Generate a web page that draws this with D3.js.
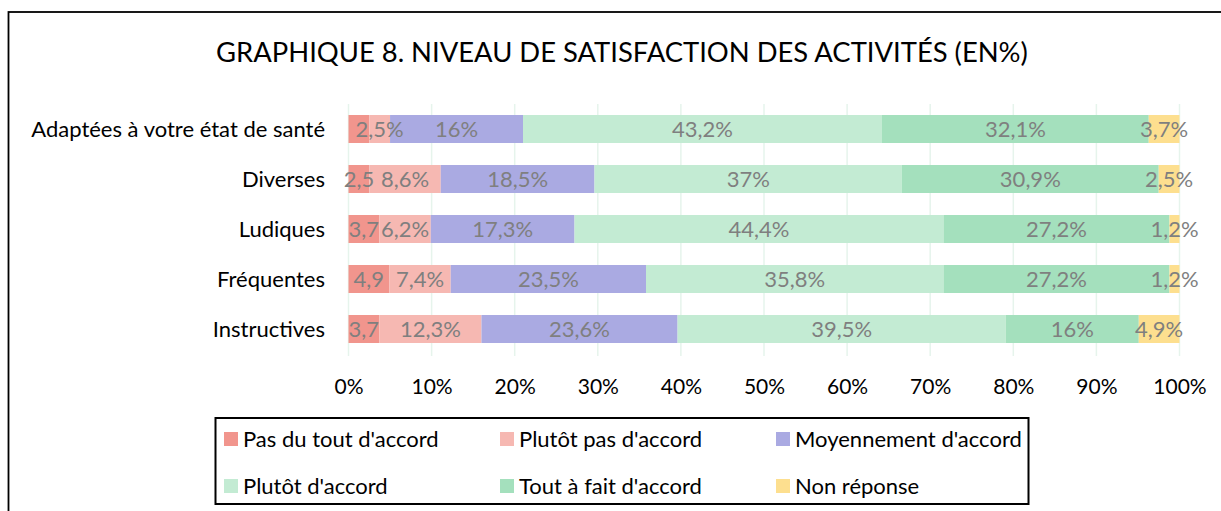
<!DOCTYPE html>
<html>
<head>
<meta charset="utf-8">
<script src="https://cdn.jsdelivr.net/npm/d3@7"></script>
<style>
  body { margin: 0; background: #fff; }
  svg { display: block; font-family: Lato, "Open Sans", sans-serif; }
</style>
</head>
<body>
<div id="chart"></div>
<script>
// Data
const categories = ["Adaptées à votre état de santé", "Diverses", "Ludiques", "Fréquentes", "Instructives"];
const seriesNames = ["Pas du tout d'accord", "Plutôt pas d'accord", "Moyennement d'accord",
                     "Plutôt d'accord", "Tout à fait d'accord", "Non réponse"];
const pasDuTout   = [2.5, 2.5, 3.7, 4.9, 3.7];
const plutotPas   = [2.5, 8.6, 6.2, 7.4, 12.3];
const moyennement = [16, 18.5, 17.3, 23.5, 23.6];
const plutot      = [43.2, 37, 44.4, 35.8, 39.5];
const toutAFait   = [32.1, 30.9, 27.2, 27.2, 16];
const nonReponse  = [3.7, 2.5, 1.2, 1.2, 4.9];
const tickValues  = [0, 10, 20, 30, 40, 50, 60, 70, 80, 90, 100];
const colors = ["#f1958d", "#f6b8b2", "#aaaae2", "#c3ebd3", "#a4e0bd", "#fddf8f"];

const seriesValues = [pasDuTout, plutotPas, moyennement, plutot, toutAFait, nonReponse];

// build rows for the stack
const rows = categories.map(function(c, i) {
  const r = { cat: c };
  seriesNames.forEach(function(s, j) { r[s] = seriesValues[j][i]; });
  return r;
});

const width = 1221, height = 511;
const plot = { left: 348.5, right: 1179.5, top: 104, bottom: 354 };
const fontSize = 22;

const svg = d3.select("#chart").append("svg")
  .attr("width", width)
  .attr("height", height);

// outer frame
svg.append("rect")
  .attr("x", 8.5).attr("y", 12)
  .attr("width", 1240).attr("height", 540)
  .attr("fill", "none")
  .attr("stroke", "#000")
  .attr("stroke-width", 1.8);

svg.append("text")
  .attr("x", 622).attr("y", 62)
  .attr("text-anchor", "middle")
  .attr("font-size", 27.4)
  .attr("fill", "#000")
  .text("GRAPHIQUE 8. NIVEAU DE SATISFACTION DES ACTIVITÉS (EN%)");

const x = d3.scaleLinear().domain([0, 100]).range([plot.left, plot.right]);
const y = d3.scaleBand().domain(categories).range([plot.top, plot.bottom])
  .paddingInner(0.44).paddingOuter(0.22);

// gridlines
svg.append("g").selectAll("line")
  .data(tickValues)
  .enter().append("line")
  .attr("x1", d => x(d)).attr("x2", d => x(d))
  .attr("y1", plot.top).attr("y2", plot.bottom + 2)
  .attr("stroke", "#e6f4ec")
  .attr("stroke-width", 1.5);

const stack = d3.stack().keys(seriesNames)(rows);

const layers = svg.append("g").selectAll("g")
  .data(stack)
  .enter().append("g")
  .attr("fill", (d, i) => colors[i]);

layers.selectAll("rect")
  .data(d => d)
  .enter().append("rect")
  .attr("x", d => x(d[0]))
  .attr("y", d => y(d.data.cat))
  .attr("width", d => x(d[1]) - x(d[0]))
  .attr("height", y.bandwidth());

// data labels (first series is shown without "%", and hidden on the first row where it is overlapped)
const fmt = v => String(v).replace(".", ",");
const labels = svg.append("g");
stack.forEach(function(layer, j) {
  layer.forEach(function(d, i) {
    if (j === 0 && i === 0) return;
    labels.append("text")
      .attr("x", (x(d[0]) + x(d[1])) / 2)
      .attr("y", y(d.data.cat) + y.bandwidth() / 2)
      .attr("dy", "0.36em")
      .attr("text-anchor", "middle")
      .attr("font-size", fontSize)
      .attr("fill", "#7f7f7f")
      .text(j === 0 ? fmt(seriesValues[0][i]) : fmt(seriesValues[j][i]) + "%");
  });
});

// category labels
svg.append("g").selectAll("text")
  .data(categories)
  .enter().append("text")
  .attr("x", 325)
  .attr("y", d => y(d) + y.bandwidth() / 2)
  .attr("dy", "0.36em")
  .attr("text-anchor", "end")
  .attr("font-size", fontSize)
  .attr("fill", "#000")
  .text(d => d);

// x axis labels
const xAxis = d3.axisBottom(x).tickValues(tickValues).tickSize(0).tickPadding(0)
  .tickFormat(d => d + "%");
const ax = svg.append("g")
  .attr("transform", `translate(0, 379)`)
  .call(xAxis);
ax.select(".domain").remove();
ax.selectAll("text")
  .attr("font-size", 21)
  .attr("font-family", "Lato, 'Open Sans', sans-serif")
  .attr("fill", "#000");

// legend
const legend = svg.append("g");
legend.append("rect")
  .attr("x", 215.5).attr("y", 418)
  .attr("width", 813).attr("height", 86)
  .attr("fill", "#fff")
  .attr("stroke", "#000")
  .attr("stroke-width", 2);

const legendItem = legend.selectAll(".legend-item")
  .data(seriesNames)
  .enter().append("g")
  .attr("class", "legend-item")
  .attr("transform", (d, i) => `translate(${224 + (i % 3) * 276}, ${439 + Math.floor(i / 3) * 47})`);

legendItem.append("rect")
  .attr("x", 0).attr("y", -7)
  .attr("width", 14).attr("height", 14)
  .attr("fill", (d, i) => colors[i]);

legendItem.append("text")
  .attr("x", 19)
  .attr("dy", "0.36em")
  .attr("font-size", fontSize)
  .attr("fill", "#000")
  .text(d => d);
</script>
</body>
</html>
